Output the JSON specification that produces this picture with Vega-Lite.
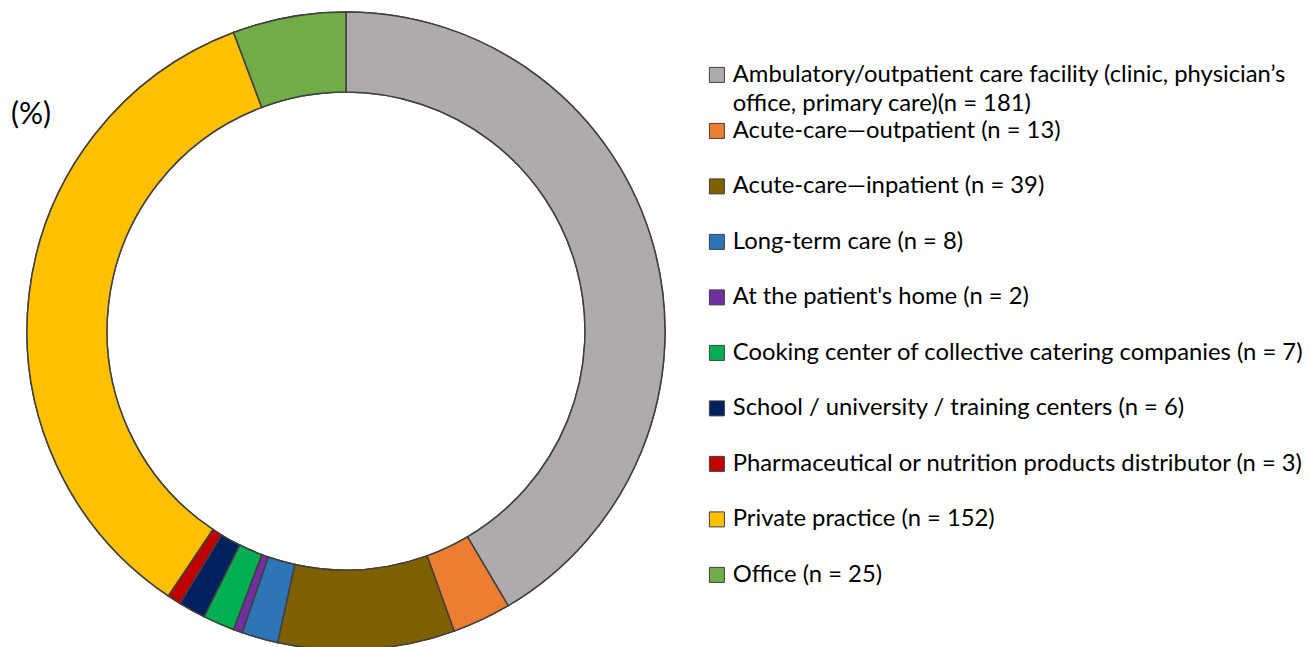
{
  "$schema": "https://vega.github.io/schema/vega-lite/v6.json",
  "width": 692,
  "height": 662,
  "padding": 0,
  "autosize": {"type": "pad"},
  "background": "white",
  "title": {
    "text": "(%)",
    "anchor": "start",
    "frame": "group",
    "orient": "top",
    "dx": 11,
    "dy": 134,
    "font": "Lato",
    "fontSize": 30,
    "fontWeight": "normal",
    "color": "#000000"
  },
  "data": {
    "values": [
      {"order": 1, "setting": "Ambulatory/outpatient care facility (clinic, physician’s|office, primary care)(n = 181)", "n": 181},
      {"order": 2, "setting": "Acute-care—outpatient (n = 13)", "n": 13},
      {"order": 3, "setting": "Acute-care—inpatient (n = 39)", "n": 39},
      {"order": 4, "setting": "Long-term care (n = 8)", "n": 8},
      {"order": 5, "setting": "At the patient's home (n = 2)", "n": 2},
      {"order": 6, "setting": "Cooking center of collective catering companies (n = 7)", "n": 7},
      {"order": 7, "setting": "School / university / training centers (n = 6)", "n": 6},
      {"order": 8, "setting": "Pharmaceutical or nutrition products distributor (n = 3)", "n": 3},
      {"order": 9, "setting": "Private practice (n = 152)", "n": 152},
      {"order": 10, "setting": "Office (n = 25)", "n": 25}
    ]
  },
  "layer": [
    {
      "mark": {"type": "arc", "radius": 319, "radius2": 239, "stroke": "#404040", "strokeWidth": 1.5},
      "encoding": {
        "theta": {"field": "n", "type": "quantitative", "stack": true},
        "order": {"field": "order", "type": "quantitative"},
        "fill": {
          "field": "setting",
          "type": "nominal",
          "scale": {
            "domain": [
              "Office (n = 25)",
              "Private practice (n = 152)",
              "Pharmaceutical or nutrition products distributor (n = 3)",
              "School / university / training centers (n = 6)",
              "Cooking center of collective catering companies (n = 7)",
              "At the patient's home (n = 2)",
              "Long-term care (n = 8)",
              "Acute-care—inpatient (n = 39)",
              "Acute-care—outpatient (n = 13)",
              "Ambulatory/outpatient care facility (clinic, physician’s|office, primary care)(n = 181)"
            ],
            "range": ["#70AD47", "#FFC000", "#C00000", "#002060", "#00B050", "#7030A0", "#2E75B6", "#7F6000", "#ED7D31", "#AFABAB"]
          },
          "legend": {
            "title": null,
            "orient": "none",
            "legendX": 705,
            "legendY": 63,
            "values": ["Ambulatory/outpatient care facility (clinic, physician’s|office, primary care)(n = 181)"],
            "labelExpr": "split(datum.label, '|')"
          }
        }
      }
    },
    {
      "mark": {"type": "arc", "radius": 319, "radius2": 239, "stroke": "#404040", "strokeWidth": 1.5},
      "encoding": {
        "theta": {"field": "n", "type": "quantitative", "stack": true},
        "order": {"field": "order", "type": "quantitative"},
        "color": {
          "field": "setting",
          "type": "nominal",
          "scale": {
            "domain": [
              "Ambulatory/outpatient care facility (clinic, physician’s|office, primary care)(n = 181)",
              "Acute-care—outpatient (n = 13)",
              "Acute-care—inpatient (n = 39)",
              "Long-term care (n = 8)",
              "At the patient's home (n = 2)",
              "Cooking center of collective catering companies (n = 7)",
              "School / university / training centers (n = 6)",
              "Pharmaceutical or nutrition products distributor (n = 3)",
              "Private practice (n = 152)",
              "Office (n = 25)"
            ],
            "range": ["#AFABAB", "#ED7D31", "#7F6000", "#2E75B6", "#7030A0", "#00B050", "#002060", "#C00000", "#FFC000", "#70AD47"]
          },
          "legend": {
            "title": null,
            "orient": "none",
            "legendX": 705,
            "legendY": 119,
            "values": [
              "Acute-care—outpatient (n = 13)",
              "Acute-care—inpatient (n = 39)",
              "Long-term care (n = 8)",
              "At the patient's home (n = 2)",
              "Cooking center of collective catering companies (n = 7)",
              "School / university / training centers (n = 6)",
              "Pharmaceutical or nutrition products distributor (n = 3)",
              "Private practice (n = 152)",
              "Office (n = 25)"
            ]
          }
        }
      }
    }
  ],
  "resolve": {"legend": {"color": "independent", "fill": "independent"}},
  "config": {
    "view": {"stroke": null},
    "style": {"guide-label": {"lineHeight": 29}},
    "legend": {
      "padding": 0,
      "symbolType": "square",
      "symbolSize": 225,
      "symbolStrokeColor": "#404040",
      "symbolStrokeWidth": 1,
      "labelFont": "Lato",
      "labelFontSize": 23.8,
      "labelColor": "#000000",
      "labelLimit": 700,
      "labelOffset": 4,
      "rowPadding": 30.5
    }
  }
}
